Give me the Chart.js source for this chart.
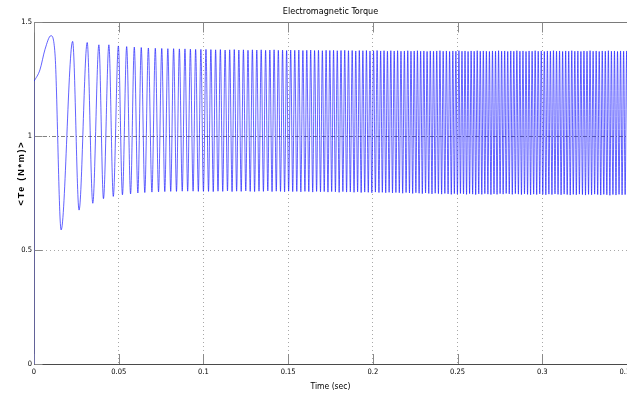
<!DOCTYPE html>
<html>
<head>
<meta charset="utf-8">
<title>Electromagnetic Torque</title>
<script src="https://cdn.jsdelivr.net/npm/chart.js@4.4.1/dist/chart.umd.min.js"></script>
<style>
  html, body { margin: 0; padding: 0; background: #fff; overflow: hidden; }
  #torqueChart { display: block; }
</style>
</head>
<body>
<canvas id="torqueChart" width="627" height="394"></canvas>
<script>
/* ── DATA (time in ms, torque in N*m) ── */
const xTicks = [0, 0.05, 0.1, 0.15, 0.2, 0.25, 0.3, 0.35];
const yTicks = [0, 0.5, 1, 1.5];

// switch-on step at t = 0
const stepMs = [0, 0.05];
const stepNm = [0, 1.24];

// start-up: rise to the first peak, start of the first drop
const startMs = [0.05, 3.5, 6.5, 12.4];
const startNm = [1.24, 1.29, 1.38, 1.36];

// local maxima of the torque ripple
const peakMs = [
  10.0, 22.8, 31.4, 38.3, 44.2, 49.8, 54.7, 59.2, 63.3, 67.5,
  71.6, 75.4, 79.0, 82.4, 85.8, 89.1, 92.3, 95.4, 98.5, 101.5,
  104.4, 107.2, 110.0, 112.8, 115.5, 118.2, 120.9, 123.6, 126.3, 128.9,
  131.5, 134.1, 136.7, 139.2, 141.7, 144.2, 146.7, 149.1, 151.5, 153.9,
  156.3, 158.7, 161.0, 163.3, 165.6, 167.9, 170.2, 172.4, 174.6, 176.8,
  179.0, 181.2, 183.4, 185.6, 187.8, 189.9, 192.0, 194.1, 196.2, 198.3,
  200.4, 202.5, 204.6, 206.6, 208.6, 210.6, 212.6, 214.6, 216.6, 218.6,
  220.6, 222.5, 224.4, 226.3, 228.2, 230.1, 232.0, 233.9, 235.8, 237.7,
  239.6, 241.5, 243.4, 245.3, 247.2, 249.0, 250.8, 252.6, 254.4, 256.2,
  258.0, 259.8, 261.6, 263.4, 265.2, 267.0, 268.8, 270.6, 272.4, 274.2,
  276.0, 277.8, 279.6, 281.4, 283.2, 285.0, 286.8, 288.6, 290.4, 292.2,
  294.0, 295.8, 297.6, 299.4, 301.2, 303.0, 304.8, 306.6, 308.4, 310.2,
  312.0, 313.8, 315.6, 317.4, 319.2, 321.0, 322.8, 324.6, 326.4, 328.2,
  330.0, 331.8, 333.6, 335.4, 337.2, 339.0, 340.8, 342.6, 344.4, 346.2,
  348.0, 349.8, 351.6
];
const peakNm = [
  1.44, 1.415, 1.41, 1.40, 1.40, 1.395, 1.392, 1.39, 1.388, 1.386,
  1.385, 1.384, 1.383, 1.383, 1.382, 1.382, 1.381, 1.38, 1.38, 1.38,
  1.379, 1.378, 1.379, 1.377, 1.378, 1.379, 1.377, 1.378, 1.376, 1.378,
  1.377, 1.378, 1.376, 1.377, 1.378, 1.376, 1.377, 1.375, 1.377, 1.376,
  1.377, 1.375, 1.376, 1.377, 1.375, 1.376, 1.374, 1.376, 1.375, 1.376,
  1.374, 1.375, 1.376, 1.374, 1.375, 1.373, 1.375, 1.374, 1.375, 1.373,
  1.374, 1.375, 1.373, 1.374, 1.372, 1.374, 1.373, 1.374, 1.372, 1.373,
  1.374, 1.372, 1.373, 1.374, 1.372, 1.373, 1.371, 1.373, 1.372, 1.373,
  1.374, 1.372, 1.373, 1.371, 1.373, 1.372, 1.374, 1.372, 1.373, 1.371,
  1.373, 1.372, 1.374, 1.372, 1.373, 1.372, 1.371, 1.373, 1.372, 1.374,
  1.372, 1.373, 1.371, 1.373, 1.372, 1.374, 1.372, 1.373, 1.371, 1.373,
  1.372, 1.374, 1.372, 1.373, 1.371, 1.373, 1.372, 1.374, 1.372, 1.373,
  1.371, 1.373, 1.372, 1.374, 1.372, 1.373, 1.371, 1.373, 1.372, 1.374,
  1.372, 1.373, 1.371, 1.373, 1.372, 1.374, 1.372, 1.373, 1.371, 1.373,
  1.372, 1.373, 1.372
];

// local minima of the torque ripple
const troughMs = [
  16.0, 26.6, 34.7, 41.0, 46.8, 52.2, 57.0, 61.3, 65.4, 69.6,
  73.5, 77.2, 80.7, 84.1, 87.5, 90.7, 93.9, 97.0, 100.0, 103.0,
  105.8, 108.6, 111.4, 114.2, 116.9, 119.6, 122.3, 125.0, 127.6, 130.2,
  132.8, 135.4, 138.0, 140.5, 143.0, 145.5, 147.9, 150.3, 152.7, 155.1,
  157.5, 159.9, 162.2, 164.5, 166.8, 169.1, 171.3, 173.5, 175.7, 177.9,
  180.1, 182.3, 184.5, 186.7, 188.9, 191.0, 193.1, 195.2, 197.3, 199.4,
  201.5, 203.6, 205.6, 207.6, 209.6, 211.6, 213.6, 215.6, 217.6, 219.6,
  221.6, 223.5, 225.4, 227.3, 229.2, 231.1, 233.0, 234.9, 236.8, 238.7,
  240.6, 242.5, 244.4, 246.3, 248.1, 249.9, 251.7, 253.5, 255.3, 257.1,
  258.9, 260.7, 262.5, 264.3, 266.1, 267.9, 269.7, 271.5, 273.3, 275.1,
  276.9, 278.7, 280.5, 282.3, 284.1, 285.9, 287.7, 289.5, 291.3, 293.1,
  294.9, 296.7, 298.5, 300.3, 302.1, 303.9, 305.7, 307.5, 309.3, 311.1,
  312.9, 314.7, 316.5, 318.3, 320.1, 321.9, 323.7, 325.5, 327.3, 329.1,
  330.9, 332.7, 334.5, 336.3, 338.1, 339.9, 341.7, 343.5, 345.3, 347.1,
  348.9, 350.7
];
const troughNm = [
  0.588, 0.675, 0.705, 0.725, 0.735, 0.742, 0.746, 0.75, 0.752, 0.754,
  0.755, 0.756, 0.757, 0.757, 0.758, 0.758, 0.758, 0.757, 0.757, 0.757,
  0.756, 0.758, 0.757, 0.759, 0.756, 0.758, 0.757, 0.759, 0.757, 0.756,
  0.758, 0.757, 0.759, 0.756, 0.758, 0.757, 0.755, 0.758, 0.756, 0.757,
  0.755, 0.757, 0.756, 0.754, 0.757, 0.755, 0.756, 0.754, 0.756, 0.755,
  0.753, 0.756, 0.754, 0.755, 0.753, 0.755, 0.752, 0.754, 0.753, 0.751,
  0.754, 0.752, 0.753, 0.751, 0.753, 0.750, 0.752, 0.751, 0.749, 0.752,
  0.750, 0.748, 0.751, 0.749, 0.747, 0.750, 0.748, 0.746, 0.749, 0.747,
  0.745, 0.748, 0.746, 0.744, 0.747, 0.745, 0.748, 0.746, 0.744, 0.747,
  0.745, 0.743, 0.746, 0.744, 0.747, 0.745, 0.743, 0.746, 0.744, 0.747,
  0.745, 0.748, 0.746, 0.744, 0.747, 0.745, 0.743, 0.746, 0.744, 0.742,
  0.745, 0.743, 0.746, 0.744, 0.742, 0.745, 0.743, 0.746, 0.744, 0.742,
  0.745, 0.743, 0.741, 0.744, 0.742, 0.745, 0.743, 0.741, 0.744, 0.742,
  0.745, 0.743, 0.741, 0.744, 0.742, 0.740, 0.743, 0.741, 0.744, 0.742,
  0.743, 0.741
];

const NARROW = "'DejaVu Sans Condensed', 'Liberation Sans Narrow', 'Arial Narrow', 'Liberation Sans', Arial, sans-serif";
const LINE_BLUE = "rgba(25,25,255,0.68)";

/* ── build the point tables ── */
function toPoints(ms, nm) {
  return ms.map((t, i) => ({ x: t / 1000, y: nm[i] }));
}
const stepPoints = toPoints(stepMs, stepNm);
const torquePoints = []
  .concat(toPoints(startMs, startNm), toPoints(peakMs, peakNm), toPoints(troughMs, troughNm))
  .sort((a, b) => a.x - b.x);

/* ── MATLAB-ish frame: box, inner tick marks, y label ── */
const matlabFrame = {
  id: "matlabFrame",
  beforeDatasetsDraw(chart) {
    const { ctx, chartArea: a, scales } = chart;
    const top = Math.round(a.top) + 0.5;
    const left = Math.round(a.left) + 0.5;
    ctx.save();
    ctx.lineWidth = 1;
    ctx.strokeStyle = "#7a7a7a";
    ctx.beginPath();
    ctx.moveTo(left, a.bottom);
    ctx.lineTo(left, top);
    ctx.lineTo(a.right, top);
    ctx.stroke();

    ctx.strokeStyle = "#8a8a8a";
    ctx.beginPath();
    scales.x.ticks.forEach((t) => {
      const px = Math.round(scales.x.getPixelForValue(t.value)) + 0.5;
      ctx.moveTo(px, a.bottom);
      ctx.lineTo(px, a.bottom - 10);
      ctx.moveTo(px, top);
      ctx.lineTo(px, top + 10);
    });
    scales.y.ticks.forEach((t) => {
      const py = Math.round(scales.y.getPixelForValue(t.value)) + 0.5;
      ctx.moveTo(left, py);
      ctx.lineTo(left + 8, py);
    });
    ctx.stroke();
    ctx.restore();
  },
  afterDraw(chart) {
    const { ctx } = chart;
    ctx.save();
    ctx.translate(22, 173);
    ctx.rotate(-Math.PI / 2);
    ctx.font = "bold 9px 'Liberation Sans', Arial, sans-serif";
    if ("letterSpacing" in ctx) ctx.letterSpacing = "1.8px";
    ctx.fillStyle = "#000";
    ctx.textAlign = "center";
    ctx.textBaseline = "middle";
    ctx.fillText("<Te (N*m)>", 0, 0);
    ctx.restore();
  },
};

new Chart(document.getElementById("torqueChart"), {
  type: "line",
  data: {
    datasets: [
      {
        label: "step",
        data: stepPoints,
        borderColor: "rgba(25,25,255,0.4)",
        borderWidth: 1,
        pointRadius: 0,
        fill: false,
      },
      {
        label: "Te",
        data: torquePoints,
        borderColor: LINE_BLUE,
        borderWidth: 1,
        pointRadius: 0,
        fill: false,
        cubicInterpolationMode: "monotone",
      },
    ],
  },
  options: {
    responsive: false,
    animation: false,
    layout: { padding: 0 },
    plugins: {
      legend: { display: false },
      tooltip: { enabled: false },
      title: {
        display: true,
        fullSize: false,
        text: "Electromagnetic Torque",
        color: "#000",
        font: { family: NARROW, size: 9, weight: "normal", lineHeight: "11px" },
        padding: { top: 6, bottom: 5 },
      },
    },
    scales: {
      x: {
        type: "linear",
        min: 0,
        max: 0.35,
        afterBuildTicks: (s) => { s.ticks = xTicks.map((v) => ({ value: v })); },
        afterFit: (s) => { s.height = 30; s.paddingRight = 0; s.paddingLeft = 0; },
        ticks: {
          color: "#000",
          padding: 4,
          maxRotation: 0,
          font: { family: NARROW, size: 7.5 },
          callback: (v) => String(+v.toFixed(2)),
        },
        grid: { color: "#a8a8a8", drawTicks: false },
        border: { display: true, color: "#4a4a4a", dash: [1, 3] },
        title: {
          display: true,
          text: "Time (sec)",
          color: "#000",
          font: { family: NARROW, size: 8.5 },
          padding: { top: 0, bottom: 2 },
        },
      },
      y: {
        min: 0,
        max: 1.5,
        afterBuildTicks: (s) => { s.ticks = yTicks.map((v) => ({ value: v })); },
        afterFit: (s) => { s.width = 34; },
        ticks: {
          color: "#000",
          padding: 2,
          font: { family: NARROW, size: 7.5 },
          callback: (v) => String(v),
        },
        grid: {
          color: (c) => (c.tick && c.tick.value === 1 ? "#808080" : "#a8a8a8"),
          drawTicks: false,
        },
        border: {
          display: false,
          dash: (c) => (c.tick && c.tick.value === 1 ? [4, 2, 1, 2] : [1, 3]),
        },
      },
    },
  },
  plugins: [matlabFrame],
});
</script>
</body>
</html>
